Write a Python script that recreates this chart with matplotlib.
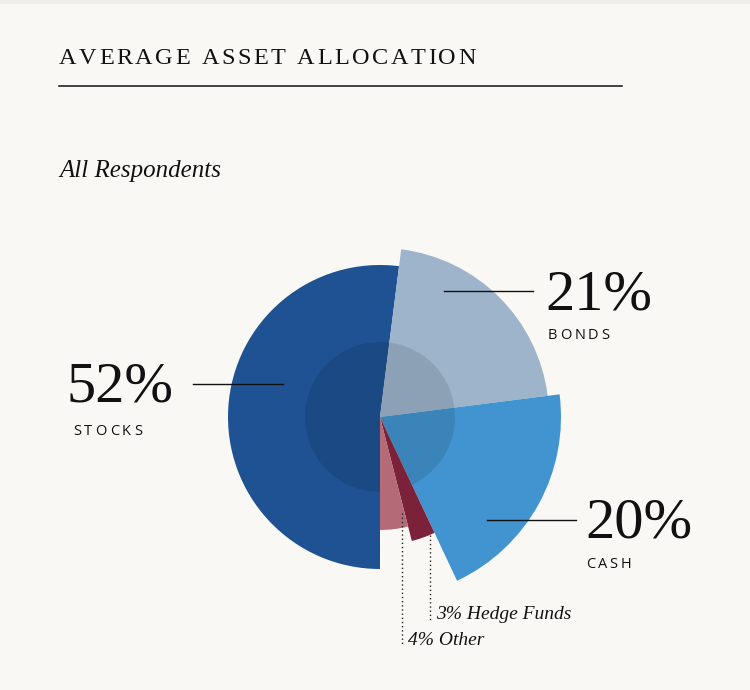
import numpy as np
import matplotlib
matplotlib.use('Agg')
import matplotlib.pyplot as plt

# 数据
labels = ['Stocks', 'Bonds', 'Cash', 'Hedge Funds', 'Other']
shares = [52, 21, 20, 3, 4]
radii = [152, 169, 181, 128, 113]
colors = ['#1f5292', '#9db4cb', '#4194cf', '#7b2139', '#b56b77']

BG = '#f9f8f5'
W, H = 750, 690

fig = plt.figure(figsize=(W / 100, H / 100), dpi=100, facecolor=BG)

# 饼图（极坐标，半径不同）
cx, cy, R = 380, 417, 200
axp = fig.add_axes([(cx - R) / W, (H - cy - R) / H, 2 * R / W, 2 * R / H],
                   projection='polar')
axp.set_theta_zero_location('N')
axp.set_theta_direction(-1)
axp.set_rlim(0, R)
axp.set_axis_off()

widths = np.array(shares) / sum(shares) * 2 * np.pi
starts = np.pi + np.concatenate([[0], np.cumsum(widths)[:-1]])
centers = starts + widths / 2

axp.bar(centers[:3], radii[:3], width=widths[:3], bottom=0, color=colors[:3],
        linewidth=0, zorder=1)
axp.bar(0, 75, width=2 * np.pi, bottom=0, color='black', alpha=0.1,
        linewidth=0, zorder=2)
axp.bar(centers[3:], radii[3:], width=widths[3:], bottom=0, color=colors[3:],
        linewidth=0, zorder=3)

# 文字层（像素坐标）
ax = fig.add_axes([0, 0, 1, 1], zorder=5)
ax.set_xlim(0, W)
ax.set_ylim(H, 0)
ax.axis('off')
ax.patch.set_alpha(0)

ax.add_patch(plt.Rectangle((0, 0), W, 4, color='#eeeeeb', lw=0))

renderer = fig.canvas.get_renderer()


def spaced_text(x, y, s, width, **kw):
    """逐字符绘制，按目标宽度调整字距"""
    def w_of(t):
        tt = ax.text(0, 0, t, **kw)
        w = tt.get_window_extent(renderer).width
        tt.remove()
        return w
    ws = []
    for ch in s:
        if ch == ' ':
            ws.append(w_of('x x') - w_of('xx'))
        else:
            ws.append(w_of(ch))
    track = (width - sum(ws)) / (len(s) - 1)
    for ch, w in zip(s, ws):
        if ch != ' ':
            ax.text(x, y, ch, va='baseline', ha='left', **kw)
        x += w + track


serif = 'Liberation Serif'
sans = 'Open Sans'

spaced_text(59, 64, 'AVERAGE ASSET ALLOCATION', 417, family=serif, fontsize=17.5,
            color='#111111')
ax.plot([59, 622], [85.5, 85.5], color='#111111', lw=1.1)
ax.text(59, 177, 'All Respondents', family=serif, style='italic', fontsize=18,
        va='baseline', color='#111111')

# 大数字标签
big = dict(family=serif, fontsize=42, va='baseline', ha='left', color='#111111')
ax.text(67, 401, f'{shares[0]}%', **big)
ax.text(545, 310, f'{shares[1]}%', **big)
ax.text(585, 538, f'{shares[2]}%', **big)

small = dict(family=sans, fontsize=10.5, color='#111111')
spaced_text(73, 435, labels[0].upper(), 69, **small)
spaced_text(548, 339, labels[1].upper(), 61, **small)
spaced_text(586, 568, labels[2].upper(), 45, **small)

# 引线
ax.plot([193, 283], [384, 384], color='#111111', lw=1.0)
ax.plot([444, 533], [291, 291], color='#111111', lw=1.0)
ax.plot([487, 576], [520, 520], color='#111111', lw=1.0)

ax.plot([430, 430], [535, 622], color='#222222', lw=1.0, ls=(0, (1, 2)))
ax.plot([402, 402], [513, 645], color='#222222', lw=1.0, ls=(0, (1, 2)))

ital = dict(family=serif, style='italic', fontsize=14, va='baseline',
            color='#111111')
ax.text(436, 619, f'{shares[3]}% {labels[3]}', **ital)
ax.text(408, 645, f'{shares[4]}% {labels[4]}', **ital)

fig.savefig('out.png', dpi=100, facecolor=BG)
